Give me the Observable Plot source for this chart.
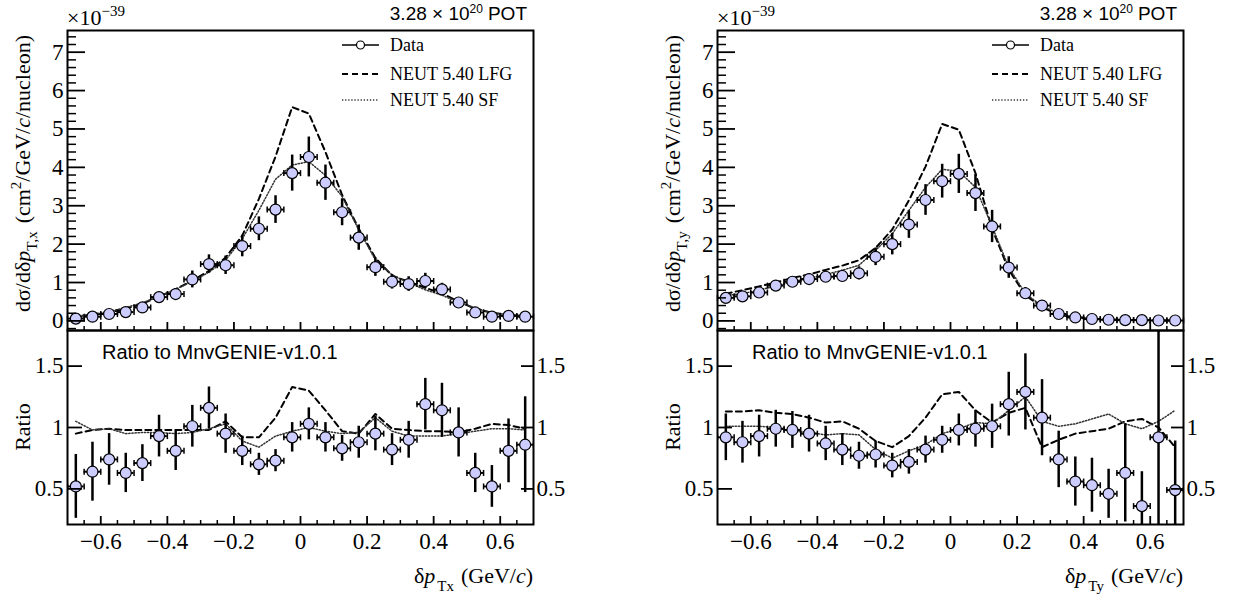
<!DOCTYPE html>
<html><head><meta charset="utf-8">
<script src="https://cdn.jsdelivr.net/npm/d3@7"></script>
<script src="https://cdn.jsdelivr.net/npm/@observablehq/plot@0.6"></script>
<style>
body{margin:0;background:#fff;}
#wrap{position:relative;width:1233px;height:599px;overflow:hidden;background:#fff;}
</style></head><body><div id="wrap"></div>
<script>
// ---------- data ----------
const binCenters = [-0.675,-0.625,-0.575,-0.525,-0.475,-0.425,-0.375,-0.325,-0.275,-0.225,-0.175,-0.125,-0.075,-0.025,0.025,0.075,0.125,0.175,0.225,0.275,0.325,0.375,0.425,0.475,0.525,0.575,0.625,0.675];
const binWidth = 0.05;

// dsigma/d dpTx (x1e-39)
const dataTx = [0.06,0.11,0.18,0.23,0.35,0.62,0.70,1.08,1.48,1.45,1.95,2.40,2.90,3.85,4.27,3.60,2.83,2.17,1.40,1.02,0.96,1.04,0.82,0.48,0.22,0.11,0.13,0.11];
const errTx  = [0.04,0.05,0.06,0.06,0.08,0.13,0.14,0.22,0.24,0.24,0.28,0.31,0.36,0.47,0.52,0.46,0.35,0.33,0.24,0.19,0.19,0.20,0.16,0.08,0.05,0.04,0.04,0.04];
const lfgTx  = [0.09,0.15,0.22,0.32,0.45,0.63,0.83,1.05,1.30,1.65,2.22,3.18,4.28,5.57,5.40,4.40,3.28,2.40,1.64,1.18,1.02,0.86,0.72,0.50,0.32,0.21,0.16,0.12];
const sfTx   = [0.12,0.18,0.24,0.35,0.47,0.64,0.82,1.03,1.27,1.58,2.14,2.88,3.69,4.06,4.15,3.79,3.24,2.37,1.59,1.20,0.99,0.81,0.67,0.48,0.34,0.21,0.16,0.12];

// dsigma/d dpTy (x1e-39)
const dataTy = [0.60,0.64,0.74,0.92,1.02,1.09,1.15,1.17,1.24,1.67,2.00,2.51,3.15,3.64,3.83,3.33,2.46,1.39,0.72,0.40,0.18,0.09,0.05,0.03,0.02,0.02,0.01,0.01];
const errTy  = [0.10,0.10,0.11,0.12,0.13,0.14,0.15,0.15,0.17,0.23,0.28,0.36,0.40,0.44,0.51,0.48,0.42,0.28,0.15,0.08,0.05,0.03,0.02,0.02,0.02,0.02,0.01,0.01];
const lfgTy  = [0.71,0.80,0.90,1.00,1.12,1.21,1.33,1.44,1.58,1.90,2.38,3.14,4.02,5.13,4.98,3.85,2.40,1.33,0.67,0.36,0.16,0.09,0.05,0.03,0.03,0.02,0.01,0.01];
const sfTy   = [0.66,0.71,0.80,0.91,1.02,1.11,1.21,1.32,1.45,1.84,2.27,2.88,3.48,3.95,3.90,3.48,2.46,1.40,0.71,0.39,0.19,0.09,0.05,0.03,0.02,0.02,0.01,0.01];

// ratios to MnvGENIE-v1.0.1
const ratioDataTx = [0.52,0.64,0.74,0.63,0.71,0.93,0.81,1.01,1.16,0.95,0.81,0.70,0.73,0.92,1.03,0.92,0.83,0.88,0.95,0.82,0.90,1.19,1.14,0.96,0.63,0.52,0.81,0.86];
const ratioErrTx  = [0.26,0.24,0.21,0.16,0.15,0.17,0.16,0.17,0.17,0.16,0.12,0.09,0.09,0.12,0.13,0.12,0.105,0.13,0.14,0.13,0.15,0.21,0.22,0.20,0.16,0.17,0.26,0.39];
const ratioLfgTx  = [0.95,0.98,0.99,0.98,0.98,0.98,0.98,0.98,0.98,1.05,0.92,0.92,1.08,1.33,1.30,1.14,0.97,0.95,1.11,0.99,0.98,0.97,0.97,0.96,0.99,1.03,1.02,0.99];
const ratioSfTx   = [1.05,0.98,0.99,0.95,0.96,0.96,0.95,0.96,0.99,1.03,0.89,0.84,0.93,0.97,1.00,0.97,0.95,0.96,1.08,0.97,0.93,0.93,0.93,0.95,0.97,0.99,0.99,0.98];

const ratioDataTy = [0.92,0.88,0.93,0.99,0.98,0.95,0.87,0.82,0.77,0.78,0.69,0.72,0.82,0.90,0.98,0.99,1.01,1.19,1.29,1.08,0.74,0.56,0.53,0.46,0.63,0.36,0.92,0.49];
const ratioErrTy  = [0.19,0.17,0.17,0.15,0.15,0.15,0.14,0.13,0.11,0.11,0.10,0.10,0.11,0.11,0.13,0.15,0.18,0.26,0.31,0.31,0.23,0.20,0.22,0.20,0.40,0.28,1.20,0.40];
const ratioLfgTy  = [1.13,1.13,1.14,1.12,1.11,1.08,1.04,1.05,0.99,0.89,0.84,0.93,1.08,1.27,1.29,1.14,1.04,1.12,1.16,0.84,0.90,0.95,0.97,0.99,1.05,1.07,1.00,0.84];
const ratioSfTy   = [1.01,1.01,1.01,1.00,0.97,0.96,0.94,0.95,0.94,0.82,0.75,0.81,0.86,0.95,0.99,1.04,1.03,1.14,1.25,1.05,1.01,1.03,1.07,1.11,1.03,0.99,1.05,1.14];

// ticks
const xMajorTicks = [-0.6,-0.4,-0.2,0,0.2,0.4,0.6];
const xMinorTicks = [-0.65,-0.55,-0.5,-0.45,-0.35,-0.3,-0.25,-0.15,-0.1,-0.05,0.05,0.1,0.15,0.25,0.3,0.35,0.45,0.5,0.55,0.65];
const yMajorTop = [0,1,2,3,4,5,6,7];
const yMinorTop = [-0.2,0.2,0.4,0.6,0.8,1.2,1.4,1.6,1.8,2.2,2.4,2.6,2.8,3.2,3.4,3.6,3.8,4.2,4.4,4.6,4.8,5.2,5.4,5.6,5.8,6.2,6.4,6.6,6.8,7.2,7.4];
const ratioTicks = [0.5,1,1.5];

const legendLabels = ["Data","NEUT 5.40 LFG","NEUT 5.40 SF"];

// ---------- drawing ----------
const serif = "Liberation Serif";
const sans = "Liberation Sans";
const fmt = d3.format("");
const capSymbol = {draw(ctx, size){ const r = Math.sqrt(size/Math.PI); ctx.moveTo(0,-r); ctx.lineTo(0,r);} };
const noText = () => "";

const wrap = document.getElementById("wrap");

function rowsOf(v, e, a, b){
  return binCenters.map((x,i)=>({x, y:v[i], e:e[i], a:a[i], b:b[i], x1:x-binWidth/2, x2:x+binWidth/2}));
}

function dataMarks(rows, clip){
  return [
    Plot.line(rows, {x:"x", y:"a", stroke:"black", strokeWidth:2, strokeDasharray:"6,4", clip}),
    Plot.line(rows, {x:"x", y:"b", stroke:"#333", strokeWidth:1.5, strokeDasharray:"1.3,1.8", clip}),
    Plot.ruleY(rows, {y:"y", x1:"x1", x2:"x2", stroke:"black", strokeWidth:2, clip}),
    Plot.dot(rows, {x:"x1", y:"y", symbol:capSymbol, r:3, stroke:"black", fill:"none", strokeWidth:1.5, clip}),
    Plot.dot(rows, {x:"x2", y:"y", symbol:capSymbol, r:3, stroke:"black", fill:"none", strokeWidth:1.5, clip}),
    Plot.ruleX(rows, {x:"x", y1:d=>d.y-d.e, y2:d=>d.y+d.e, stroke:"black", strokeWidth:2.5, clip}),
    Plot.dot(rows, {x:"x", y:"y", r:5.5, fill:"#ccccff", stroke:"black", strokeWidth:1.2, clip})
  ];
}

function place(svg, left, top){
  svg.style.position = "absolute";
  svg.style.left = left + "px";
  svg.style.top = top + "px";
  svg.style.overflow = "visible";
  svg.style.background = "transparent";
  svg.style.maxWidth = "none";
  wrap.appendChild(svg);
}

const panels = [
  {left:0, frameL:67, frameR:533, top:rowsOf(dataTx,errTx,lfgTx,sfTx), ratio:rowsOf(ratioDataTx,ratioErrTx,ratioLfgTx,ratioSfTx), xsub:"Tx", ysub:"T,x"},
  {left:616, frameL:717, frameR:1183, top:rowsOf(dataTy,errTy,lfgTy,sfTy), ratio:rowsOf(ratioDataTy,ratioErrTy,ratioLfgTy,ratioSfTy), xsub:"Ty", ysub:"T,y"}
];

const W = 616;
const lab = {fontFamily: serif, fontSize: 23, label: null, tickSize: 0, tickFormat: fmt};
for (const p of panels){
  const mL = p.frameL - p.left, mR = p.left + W - p.frameR;
  // upper panel
  const top = Plot.plot({
    width: W, height: 330,
    marginLeft: mL, marginRight: mR, marginTop: 30, marginBottom: 0,
    x: {domain: [-0.7, 0.7]},
    y: {domain: [-0.25, 7.565]},
    style: {fontFamily: serif, color: "black", overflow: "visible", background: "transparent"},
    marks: [
      ...dataMarks(p.top, false),
      Plot.frame({stroke:"black", strokeWidth:2}),
      Plot.axisY({anchor:"right", frameAnchor:"left", ticks:yMajorTop, tickSize:17, tickFormat:noText, label:null, strokeWidth:1.8}),
      Plot.axisY({anchor:"right", frameAnchor:"left", ticks:yMinorTop, tickSize:8, tickFormat:noText, label:null, strokeWidth:1.5}),
      Plot.axisY({...lab, anchor:"left", ticks:yMajorTop, tickPadding:4}),
      Plot.axisX({anchor:"top", frameAnchor:"bottom", ticks:xMajorTicks, tickSize:9, tickFormat:noText, label:null, strokeWidth:1.8}),
      Plot.axisX({anchor:"top", frameAnchor:"bottom", ticks:xMinorTicks, tickSize:5, tickFormat:noText, label:null, strokeWidth:1.5})
    ]
  });
  place(top, p.left, 0);

  // ratio panel
  const rat = Plot.plot({
    width: W, height: 269,
    marginLeft: mL, marginRight: mR, marginTop: 0, marginBottom: 75,
    x: {domain: [-0.7, 0.7]},
    y: {domain: [0.21, 1.79]},
    style: {fontFamily: serif, color: "black", overflow: "visible", background: "transparent"},
    marks: [
      ...dataMarks(p.ratio, true),
      Plot.frame({stroke:"black", strokeWidth:2}),
      Plot.axisY({anchor:"right", frameAnchor:"left", ticks:ratioTicks, tickSize:14, tickFormat:noText, label:null, strokeWidth:1.8}),
      Plot.axisY({anchor:"left", frameAnchor:"right", ticks:ratioTicks, tickSize:12, tickFormat:noText, label:null, strokeWidth:1.8}),
      Plot.axisY({...lab, anchor:"left", ticks:ratioTicks, tickPadding:4}),
      Plot.axisY({...lab, anchor:"right", ticks:ratioTicks, tickPadding:3}),
      Plot.axisX({anchor:"top", frameAnchor:"bottom", ticks:xMajorTicks, tickSize:9, tickFormat:noText, label:null, strokeWidth:1.8}),
      Plot.axisX({anchor:"top", frameAnchor:"bottom", ticks:xMinorTicks, tickSize:5, tickFormat:noText, label:null, strokeWidth:1.5}),
      Plot.axisX({...lab, anchor:"bottom", ticks:xMajorTicks, tickPadding:8})
    ]
  });
  place(rat, p.left, 330);
}

// ---------- annotations overlay ----------
const ov = d3.select(wrap).append("svg")
  .attr("width", 1233).attr("height", 599)
  .style("position","absolute").style("left","0px").style("top","0px").style("overflow","visible");

for (const p of panels){
  const g = ov.append("g");
  // x10^-39
  const m = g.append("text").attr("x", p.frameL).attr("y", 25).attr("font-family", serif).attr("font-size", 22);
  m.append("tspan").text("×10");
  m.append("tspan").attr("font-size", 15).attr("dy", -9).text("−39");
  // POT
  const pot = g.append("text").attr("x", p.frameR - 6).attr("y", 20).attr("text-anchor","end").attr("font-family", sans).attr("font-size", 19);
  pot.append("tspan").text("3.28 × 10");
  pot.append("tspan").attr("font-size", 12).attr("dy", -7).text("20");
  pot.append("tspan").attr("dy", 7).attr("dx", 5).text("POT");
  // ratio label
  g.append("text").attr("x", p.frameL + 35).attr("y", 359).attr("font-family", sans).attr("font-size", 20).text("Ratio to MnvGENIE-v1.0.1");
  // y title upper
  const bx = p.frameL - 37;
  const yt = g.append("text").attr("transform", `translate(${bx},35) rotate(-90)`).attr("text-anchor","end").attr("font-family", serif).attr("font-size", 22);
  yt.append("tspan").text("dσ/dδ");
  yt.append("tspan").attr("font-style","italic").text("p");
  yt.append("tspan").attr("font-size", 15).attr("dy", 7).text(p.ysub);
  yt.append("tspan").attr("dy", -7).attr("dx", 8).text("(cm");
  yt.append("tspan").attr("font-size", 15).attr("dy", -9).text("2");
  yt.append("tspan").attr("dy", 9).text("/GeV/");
  yt.append("tspan").attr("font-style","italic").text("c");
  yt.append("tspan").text("/nucleon)");
  // y title ratio
  g.append("text").attr("transform", `translate(${bx},427) rotate(-90)`).attr("text-anchor","middle").attr("font-family", serif).attr("font-size", 22).text("Ratio");
  // x title
  const xt = g.append("text").attr("x", p.frameR).attr("y", 583).attr("text-anchor","end").attr("font-family", serif).attr("font-size", 22);
  xt.append("tspan").text("δ");
  xt.append("tspan").attr("font-style","italic").text("p");
  xt.append("tspan").attr("font-size", 15).attr("dy", 8).attr("dx", 2).text(p.xsub);
  xt.append("tspan").attr("dy", -8).attr("dx", 7).text("(GeV/");
  xt.append("tspan").attr("font-style","italic").text("c");
  xt.append("tspan").text(")");
  // legend
  const lx1 = p.frameL + 275, lx2 = p.frameL + 312, tx = p.frameL + 323;
  const ly = [45, 74, 100];
  g.append("line").attr("x1", lx1).attr("x2", lx2).attr("y1", ly[0]).attr("y2", ly[0]).attr("stroke","black").attr("stroke-width",1.5);
  g.append("circle").attr("cx", (lx1+lx2)/2).attr("cy", ly[0]).attr("r", 4).attr("fill","white").attr("stroke","black").attr("stroke-width",1.2);
  g.append("line").attr("x1", lx1).attr("x2", lx2).attr("y1", ly[1]).attr("y2", ly[1]).attr("stroke","black").attr("stroke-width",2).attr("stroke-dasharray","6,4");
  g.append("line").attr("x1", lx1).attr("x2", lx2).attr("y1", ly[2]).attr("y2", ly[2]).attr("stroke","#333").attr("stroke-width",1.5).attr("stroke-dasharray","1.3,1.8");
  legendLabels.forEach((t,i)=>{
    g.append("text").attr("x", tx).attr("y", ly[i]).attr("dy","0.35em").attr("font-family", serif).attr("font-size", 18).text(t);
  });
}
</script></body></html>
